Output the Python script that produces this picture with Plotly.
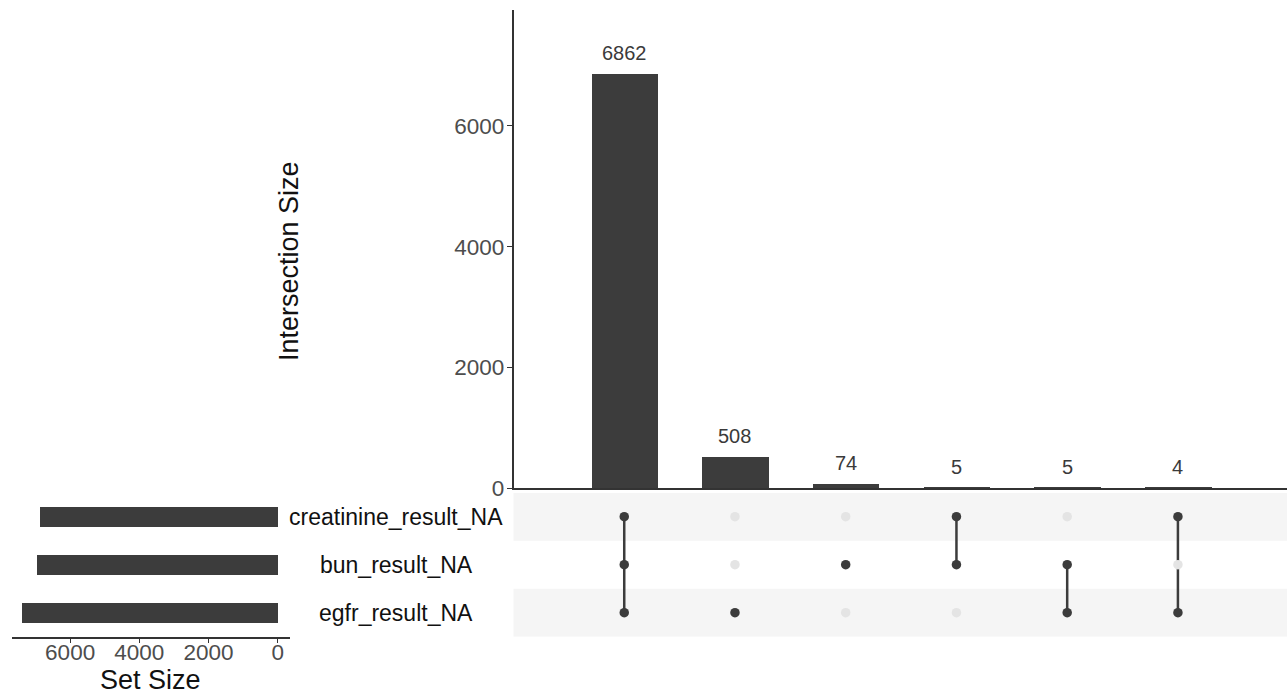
import plotly.graph_objects as go

# ---- data ----
set_names = ["creatinine_result_NA", "bun_result_NA", "egfr_result_NA"]
set_sizes = [6871, 6946, 7379]
intersection_counts = [6862, 508, 74, 5, 5, 4]
intersection_members = [
    ["creatinine_result_NA", "bun_result_NA", "egfr_result_NA"],
    ["egfr_result_NA"],
    ["bun_result_NA"],
    ["creatinine_result_NA", "bun_result_NA"],
    ["bun_result_NA", "egfr_result_NA"],
    ["creatinine_result_NA", "egfr_result_NA"],
]
y_ticks = [0, 2000, 4000, 6000]
set_ticks = [0, 2000, 4000, 6000]

# ---- style ----
W, H = 1287, 698
DARK = "#3c3c3c"
LIGHT = "#e4e4e4"
BAND = "#f5f5f5"
AXIS = "#333333"
TICKC = "#4d4d4d"
FONT = "Liberation Sans, Arial, Helvetica, sans-serif"

def px_x(p):
    return p / W

def px_y(p):
    return 1 - p / H

# set row positions: first set at top
row_of = {name: len(set_names) - i for i, name in enumerate(set_names)}
xs = list(range(1, len(intersection_counts) + 1))

fig = go.Figure()

# top intersection bars
fig.add_trace(go.Bar(
    x=xs, y=intersection_counts, width=0.6,
    marker=dict(color=DARK, line=dict(width=0)),
    xaxis="x", yaxis="y", showlegend=False, hoverinfo="skip",
))

# matrix lines and dots
for xi, members in zip(xs, intersection_members):
    rows = [row_of[m] for m in members]
    if len(rows) > 1:
        fig.add_trace(go.Scatter(
            x=[xi, xi], y=[min(rows), max(rows)], mode="lines",
            line=dict(color=DARK, width=2.5),
            xaxis="x2", yaxis="y2", showlegend=False, hoverinfo="skip",
        ))
    dot_y = [row_of[n] for n in set_names]
    dot_c = [DARK if n in members else LIGHT for n in set_names]
    fig.add_trace(go.Scatter(
        x=[xi] * len(set_names), y=dot_y, mode="markers",
        marker=dict(color=dot_c, size=9.5, line=dict(width=0)),
        xaxis="x2", yaxis="y2", showlegend=False, hoverinfo="skip",
    ))

# set size bars
fig.add_trace(go.Bar(
    x=set_sizes, y=[row_of[n] for n in set_names], orientation="h", width=0.4,
    marker=dict(color=DARK, line=dict(width=0)),
    xaxis="x3", yaxis="y3", showlegend=False, hoverinfo="skip",
))

# band shapes in matrix
shapes = []
for i, n in enumerate(set_names):
    if i % 2 == 0:
        r = row_of[n]
        shapes.append(dict(type="rect", xref="x2 domain", yref="y2",
                           x0=0, x1=1, y0=r - 0.5, y1=r + 0.5,
                           fillcolor=BAND, line=dict(width=0), layer="below"))

annotations = []
# count labels
for xi, c in zip(xs, intersection_counts):
    annotations.append(dict(x=xi, y=c, xref="x", yref="y", text=str(c),
                            showarrow=False, xanchor="center", yanchor="bottom",
                            yshift=8,
                            font=dict(size=20, color="#3a3a3a", family=FONT)))
# set labels
for n in set_names:
    annotations.append(dict(x=px_x(396), y=row_of[n], xref="paper", yref="y3",
                            text=n, showarrow=False, xanchor="center",
                            yanchor="middle",
                            font=dict(size=23, color="#111111", family=FONT)))
# axis titles
annotations.append(dict(x=px_x(289), y=px_y(261), xref="paper", yref="paper",
                        text="Intersection Size", textangle=-90, showarrow=False,
                        xanchor="center", yanchor="middle",
                        font=dict(size=27, color="#111111", family=FONT)))
annotations.append(dict(x=px_x(150), y=px_y(680), xref="paper", yref="paper",
                        text="Set Size", showarrow=False,
                        xanchor="center", yanchor="middle",
                        font=dict(size=27, color="#111111", family=FONT)))

mat_dom = [px_y(636.7), px_y(492.7)]
top_x_dom = [px_x(513.5), 1.0]

common = dict(showgrid=False, zeroline=False, automargin=False)

fig.update_layout(
    width=W, height=H, autosize=False,
    margin=dict(l=0, r=0, t=0, b=0, pad=0, autoexpand=False),
    paper_bgcolor="white", plot_bgcolor="rgba(0,0,0,0)",
    font=dict(family=FONT),
    bargap=0,
    shapes=shapes,
    annotations=annotations,
    xaxis=dict(domain=top_x_dom, range=[0, 6.985], showticklabels=False,
               ticks="", showline=True, linecolor=AXIS, linewidth=1.5,
               anchor="y", **common),
    yaxis=dict(domain=[px_y(488), px_y(10)], range=[0, 7922],
               tickvals=y_ticks, ticks="outside", ticklen=5, tickcolor=AXIS,
               tickwidth=1, tickfont=dict(size=22.5, color=TICKC, family=FONT),
               ticklabelstandoff=-2,
               showline=True, linecolor=AXIS, linewidth=1.5, anchor="x",
               **common),
    xaxis2=dict(domain=top_x_dom, range=[0, 6.985], showticklabels=False,
                ticks="", showline=False, anchor="y2", **common),
    yaxis2=dict(domain=mat_dom, range=[0.5, 3.5], showticklabels=False,
                ticks="", showline=False, anchor="x2", **common),
    xaxis3=dict(domain=[px_x(12), px_x(290)], range=[7680, -355],
                tickvals=set_ticks, ticks="outside", ticklen=5, tickcolor=AXIS,
                tickfont=dict(size=22.5, color=TICKC, family=FONT),
                ticklabelstandoff=-10,
                showline=True, linecolor=AXIS, linewidth=1.5, anchor="y3",
                **common),
    yaxis3=dict(domain=mat_dom, range=[0.5, 3.5], showticklabels=False,
                ticks="", showline=False, anchor="x3", **common),
)

post = (
    "document.documentElement.style.margin='0';"
    "document.body.style.margin='0';document.body.style.padding='0';"
    "document.body.style.overflow='hidden';"
    "var gd=document.getElementById('{plot_id}');"
    "Plotly.relayout(gd,{width:%d,height:%d});" % (W, H)
)

fig.write_html("out.html", config={"displayModeBar": False, "responsive": False},
               post_script=post)
